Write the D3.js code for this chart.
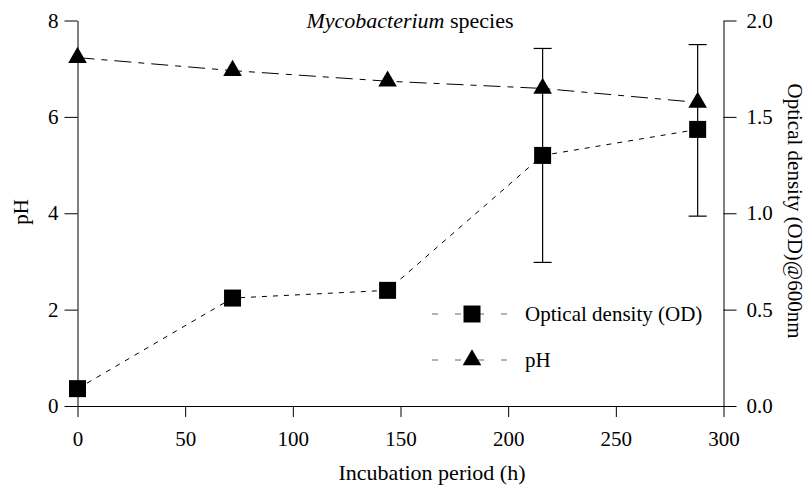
<!DOCTYPE html>
<html>
<head>
<meta charset="utf-8">
<script src="https://cdn.jsdelivr.net/npm/d3@7"></script>
<style>
  body { margin: 0; background: #fff; }
  .axis path, .axis line { stroke: #000; }
</style>
</head>
<body>
<div id="chart"></div>
<script>
// incubation times (h)
const hours = [0, 72, 144, 216, 288];
// optical density @600nm (right axis)
const od = [0.09, 0.56, 0.60, 1.30, 1.435];
// error bars on OD (lower, upper)
const odLow = [null, null, null, 0.745, 0.985];
const odHigh = [null, null, null, 1.855, 1.875];
// pH (left axis)
const ph = [7.23, 6.96, 6.74, 6.59, 6.3];

const xTicks = [0, 50, 100, 150, 200, 250, 300];
const phTicks = [0, 2, 4, 6, 8];
const odTicks = [0, 0.5, 1.0, 1.5, 2.0];

const FONT = "'Liberation Serif', 'Times New Roman', Times, serif";
const W = 806, H = 493;
const MARGIN = {top: 20.5, right: 82.5, bottom: 87, left: 77.5};
const width = W - MARGIN.left - MARGIN.right;
const height = H - MARGIN.top - MARGIN.bottom;

const svg = d3.select('#chart').append('svg')
  .attr('width', W)
  .attr('height', H);

const g = svg.append('g')
  .attr('transform', `translate(${MARGIN.left},${MARGIN.top})`);

const x = d3.scaleLinear().domain([0, 300]).range([0, width]);
const yPh = d3.scaleLinear().domain([0, 8]).range([height, 0]);
const yOd = d3.scaleLinear().domain([0, 2]).range([height, 0]);

// axes
g.append('g')
  .attr('class', 'axis')
  .attr('transform', `translate(0,${height})`)
  .call(d3.axisBottom(x).tickValues(xTicks).tickSize(11).tickSizeOuter(0).tickPadding(14));

g.append('g')
  .attr('class', 'axis')
  .call(d3.axisLeft(yPh).tickValues(phTicks).tickSize(13).tickSizeOuter(0).tickPadding(6));

g.append('g')
  .attr('class', 'axis')
  .attr('transform', `translate(${width},0)`)
  .call(d3.axisRight(yOd).tickValues(odTicks).tickFormat(d3.format('.1f')).tickSize(13).tickSizeOuter(0).tickPadding(10));

// lines
const odPts = hours.map((h, i) => ({x: h, y: od[i], lo: odLow[i], hi: odHigh[i]}));
const phPts = hours.map((h, i) => ({x: h, y: ph[i]}));

g.append('path')
  .datum(phPts)
  .attr('fill', 'none')
  .attr('stroke', '#000')
  .attr('stroke-width', 1)
  .attr('stroke-dasharray', '17,7,6,7')
  .attr('d', d3.line().x(d => x(d.x)).y(d => yPh(d.y)));

g.append('path')
  .datum(odPts)
  .attr('fill', 'none')
  .attr('stroke', '#000')
  .attr('stroke-width', 1)
  .attr('stroke-dasharray', '5,6')
  .attr('d', d3.line().x(d => x(d.x)).y(d => yOd(d.y)));

// error bars
const eb = g.selectAll('.err')
  .data(odPts.filter(d => d.lo !== null))
  .enter().append('g')
  .attr('class', 'err')
  .attr('stroke', '#000')
  .attr('stroke-width', 1.2);
eb.append('line')
  .attr('x1', d => x(d.x)).attr('x2', d => x(d.x))
  .attr('y1', d => yOd(d.lo)).attr('y2', d => yOd(d.hi));
eb.append('line')
  .attr('x1', d => x(d.x) - 9).attr('x2', d => x(d.x) + 9)
  .attr('y1', d => yOd(d.lo)).attr('y2', d => yOd(d.lo));
eb.append('line')
  .attr('x1', d => x(d.x) - 9).attr('x2', d => x(d.x) + 9)
  .attr('y1', d => yOd(d.hi)).attr('y2', d => yOd(d.hi));

// markers
const sq = d3.symbol().type(d3.symbolSquare).size(17 * 17);
const tri = d3.symbol().type(d3.symbolTriangle).size(150);

g.selectAll('.sq')
  .data(odPts)
  .enter().append('path')
  .attr('d', sq)
  .attr('transform', d => `translate(${x(d.x)},${yOd(d.y)})`)
  .attr('fill', '#000');

g.selectAll('.tri')
  .data(phPts)
  .enter().append('path')
  .attr('d', tri)
  .attr('transform', d => `translate(${x(d.x)},${yPh(d.y)})`)
  .attr('fill', '#000');

// legend
const legend = svg.append('g');
const rows = [
  {label: 'Optical density (OD)', y: 314, sym: sq},
  {label: 'pH', y: 360, sym: tri}
];
rows.forEach(r => {
  legend.append('line')
    .attr('x1', 432).attr('x2', 514)
    .attr('y1', r.y).attr('y2', r.y)
    .attr('stroke', '#666')
    .attr('stroke-width', 1.2)
    .attr('stroke-dasharray', '6,17');
  legend.append('path')
    .attr('d', r.sym())
    .attr('transform', `translate(472,${r.y})`)
    .attr('fill', '#000');
  legend.append('text')
    .attr('x', 525).attr('y', r.y)
    .attr('dy', '0.35em')
    .text(r.label);
});

// titles
const title = svg.append('text')
  .attr('class', 'big')
  .attr('x', 410).attr('y', 28)
  .attr('text-anchor', 'middle');
title.append('tspan').attr('font-style', 'italic').text('Mycobacterium');
title.append('tspan').text(' species');

svg.append('text')
  .attr('class', 'big')
  .attr('x', 432).attr('y', 480)
  .attr('text-anchor', 'middle')
  .text('Incubation period (h)');

svg.append('text')
  .attr('transform', 'translate(28,212) rotate(-90)')
  .attr('text-anchor', 'middle')
  .text('pH');

svg.append('text')
  .attr('transform', 'translate(788,211) rotate(90)')
  .attr('text-anchor', 'middle')
  .text('Optical density (OD)@600nm');

svg.selectAll('text')
  .style('font-family', FONT)
  .style('font-size', '21px')
  .attr('fill', '#000');
svg.selectAll('text.big')
  .style('font-size', '22px');
</script>
</body>
</html>
